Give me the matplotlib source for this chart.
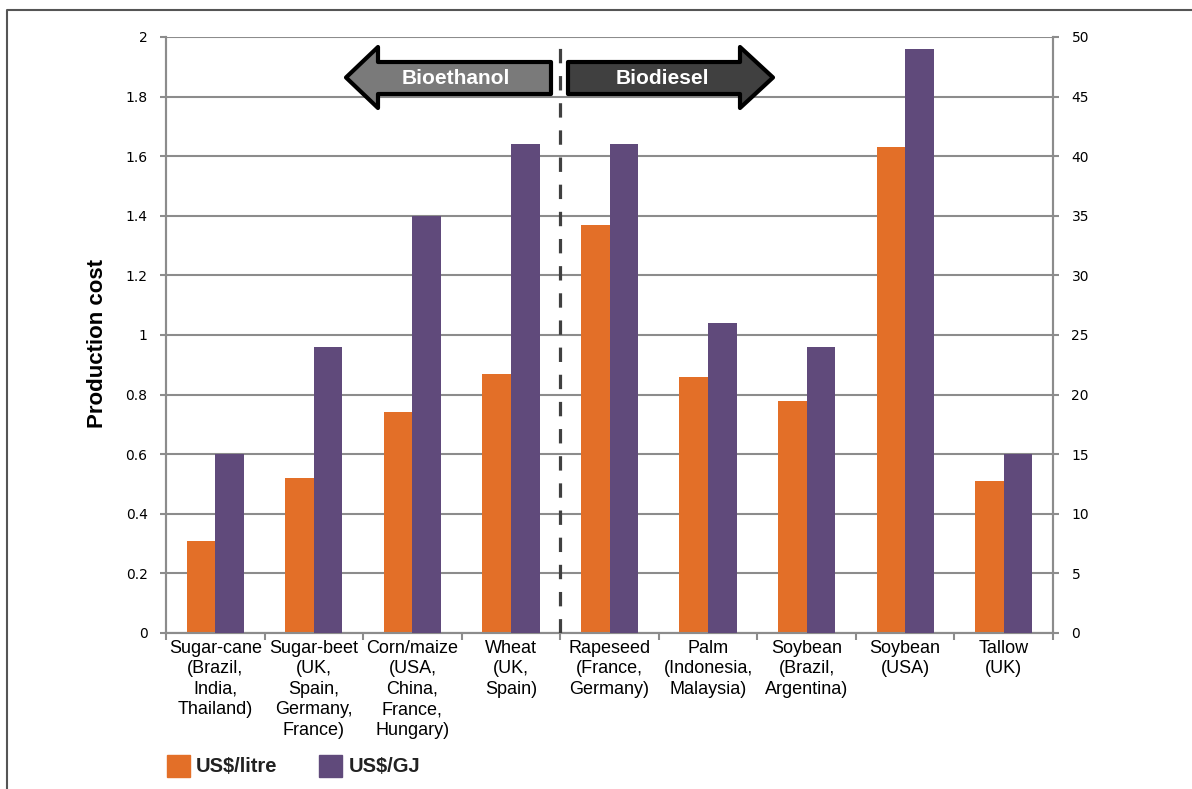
import numpy as np
import matplotlib
matplotlib.use("Agg")
import matplotlib.pyplot as plt
from matplotlib.patches import Polygon, Rectangle
from matplotlib.lines import Line2D

# production cost by feedstock (region)
crops = ["Sugar-cane\n(Brazil,\nIndia,\nThailand)",
         "Sugar-beet\n(UK,\nSpain,\nGermany,\nFrance)",
         "Corn/maize\n(USA,\nChina,\nFrance,\nHungary)",
         "Wheat\n(UK,\nSpain)",
         "Rapeseed\n(France,\nGermany)",
         "Palm\n(Indonesia,\nMalaysia)",
         "Soybean\n(Brazil,\nArgentina)",
         "Soybean\n(USA)",
         "Tallow\n(UK)"]
usd_litre = [0.31, 0.52, 0.74, 0.87, 1.37, 0.86, 0.78, 1.63, 0.51]
usd_gj = [15, 24, 35, 41, 41, 26, 24, 49, 15]

left_ticks = [0, 0.2, 0.4, 0.6, 0.8, 1.0, 1.2, 1.4, 1.6, 1.8, 2.0]
left_labels = ["0", "0.2", "0.4", "0.6", "0.8", "1", "1.2", "1.4", "1.6", "1.8", "2"]
right_ticks = [0, 5, 10, 15, 20, 25, 30, 35, 40, 45, 50]

orange = "#e36f28"
purple = "#604a7b"
grey = "#8c8c8c"

W, H = 1192, 789
fig = plt.figure(figsize=(W / 100, H / 100), dpi=100)
ax = fig.add_axes([166 / W, 1 - 633 / H, (1053 - 166) / W, 596 / H])
ax2 = ax.twinx()

x = np.arange(len(crops))
bw = 0.29
ax.bar(x - bw / 2, usd_litre, bw, color=orange, zorder=3)
ax2.bar(x + bw / 2, usd_gj, bw, color=purple, zorder=3)

ax.set_xlim(-0.5, len(crops) - 0.5)
ax.set_ylim(0, 2)
ax2.set_ylim(0, 50)

ax.set_yticks(left_ticks)
ax.set_yticklabels(left_labels, fontfamily="DejaVu Sans", fontsize=10)
ax2.set_yticks(right_ticks)
ax2.set_yticklabels([str(t) for t in right_ticks], fontfamily="DejaVu Sans", fontsize=10)

ax.set_xticks(x)
ax.set_xticklabels(crops, fontfamily="Liberation Sans", fontsize=13, linespacing=1.27)
ax.set_xticks(np.arange(-0.5, len(crops)), minor=True)
ax.tick_params(axis="x", which="major", length=0, pad=5)
ax.tick_params(axis="x", which="minor", length=5, width=1.5, color=grey, direction="out")
ax.tick_params(axis="y", length=4.3, width=1.5, color=grey, pad=9)
ax2.tick_params(axis="y", length=4.3, width=1.5, color=grey, pad=9)

ax.yaxis.grid(True, color=grey, lw=1.5)
ax.set_axisbelow(True)
for a in (ax, ax2):
    a.spines["top"].set_visible(False)
    for s in ("left", "right", "bottom"):
        a.spines[s].set_color(grey)
        a.spines[s].set_linewidth(1.5)

ax.set_ylabel("Production cost", fontfamily="Liberation Sans", fontsize=16,
              fontweight="bold")
ax.yaxis.set_label_coords(-(166 - 108) / (1053 - 166), 0.5 - 9 / 596)

# split between the two fuel groups
ax2.axvline(3.5, ymin=0, ymax=(633 - 45) / 596, color="#404040", lw=2.3,
            dashes=(4.5, 4), zorder=5)

# direction arrows for the two groups
def px_x(px):
    return (px - 166) / ((1053 - 166) / len(crops)) - 0.5

def px_y(py):
    return (633 - py) / 298

body_t, body_b = px_y(62), px_y(94)
head_t, head_b = px_y(47), px_y(108)
mid = (head_t + head_b) / 2

left_arrow = [(px_x(346), mid), (px_x(378), head_t), (px_x(378), body_t),
              (px_x(551), body_t), (px_x(551), body_b), (px_x(378), body_b),
              (px_x(378), head_b)]
right_arrow = [(px_x(773), mid), (px_x(740), head_t), (px_x(740), body_t),
               (px_x(568), body_t), (px_x(568), body_b), (px_x(740), body_b),
               (px_x(740), head_b)]
ax.add_patch(Polygon(left_arrow, closed=True, facecolor="#7a7a7a", edgecolor="black",
                     lw=3, joinstyle="round", clip_on=False, zorder=6))
ax.add_patch(Polygon(right_arrow, closed=True, facecolor="#404040", edgecolor="black",
                     lw=3, joinstyle="round", clip_on=False, zorder=6))
ax.text(px_x(456), px_y(79), "Bioethanol", color="white", fontfamily="Liberation Sans",
        fontsize=15, fontweight="bold", ha="center", va="center", zorder=7)
ax.text(px_x(662), px_y(79), "Biodiesel", color="white", fontfamily="Liberation Sans",
        fontsize=15, fontweight="bold", ha="center", va="center", zorder=7)

# legend
fig.add_artist(Rectangle((167 / W, 1 - 777 / H), 23 / W, 22 / H, color=orange,
                         transform=fig.transFigure))
fig.add_artist(Rectangle((319 / W, 1 - 777 / H), 23 / W, 22 / H, color=purple,
                         transform=fig.transFigure))
fig.text(196 / W, 1 - 767 / H, "US$/litre", fontfamily="Liberation Sans", fontsize=14.5,
         fontweight="bold", color="#222222", ha="left", va="center")
fig.text(349 / W, 1 - 767 / H, "US$/GJ", fontfamily="Liberation Sans", fontsize=14.5,
         fontweight="bold", color="#222222", ha="left", va="center")

# outer frame
fig.add_artist(Line2D([7 / W, 7 / W, 1], [0, 1 - 10 / H, 1 - 10 / H],
                      transform=fig.transFigure, color="#555555", lw=1.5))

fig.savefig("out.png", dpi=100)
